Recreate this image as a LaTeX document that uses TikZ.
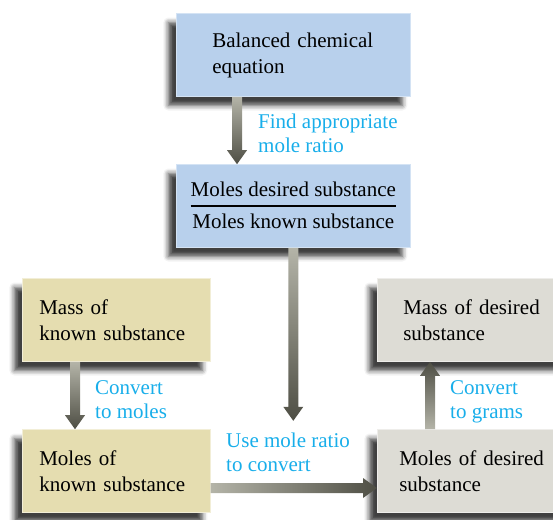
\documentclass[tikz,border=0pt]{standalone}
\usepackage{fontspec}
\setmainfont{Liberation Serif}
\usetikzlibrary{calc,shadows.blur}

\definecolor{boxblue}{RGB}{184,208,236}
\definecolor{boxtan}{RGB}{229,221,176}
\definecolor{boxgray}{RGB}{221,220,213}
\definecolor{notecyan}{RGB}{24,174,234}
\definecolor{arrowlight}{RGB}{180,180,168}
\definecolor{arrowdark}{RGB}{78,78,68}

% fat shaded arrow from #1 to #2
\newcommand{\fatarrow}[3]{%
  \coordinate (fah) at ($(#2)!14pt!(#1)$);
  \shade[#3] ($(#1)!5pt!90:(#2)$) -- ($(fah)!5pt!90:(#2)$) -- ($(fah)!10pt!90:(#2)$) -- (#2)
    -- ($(fah)!10pt!-90:(#2)$) -- ($(fah)!5pt!-90:(#2)$) -- ($(#1)!5pt!-90:(#2)$) -- cycle;}

\begin{document}
\begin{tikzpicture}[x=1pt, y=-1pt, font=\fontsize{21}{26}\selectfont,
  box/.style={anchor=west, minimum height=83pt, align=left, inner ysep=0pt, line width=0.6pt,
    blur shadow={shadow xshift=-8pt, shadow yshift=-9pt, shadow blur radius=5pt, shadow opacity=75}},
  note/.style={anchor=base west, align=left, text=notecyan, inner sep=0pt,
    font=\fontsize{21}{24}\selectfont},
  shadedown/.style={top color=arrowlight, bottom color=arrowdark},
  shadeup/.style={top color=arrowdark, bottom color=arrowlight},
  shaderight/.style={left color=arrowlight, right color=arrowdark}]
  \useasboundingbox (0,0) rectangle (553,519);

  \node[box, fill=boxblue, draw=boxblue!60!white, inner xsep=36pt, text width=162pt] (eq) at (176,55)
    {Balanced chemical\\equation};
  \node[box, fill=boxblue, draw=boxblue!60!white, minimum width=234pt] (ratio) at (176,206)
    {\renewcommand{\arraystretch}{1.2}\setlength{\arrayrulewidth}{1.2pt}%
     \begin{tabular}{@{}c@{}}Moles desired substance\\\hline Moles known substance\end{tabular}};
  \node[box, fill=boxtan, draw=boxtan!50!white, inner xsep=17pt, text width=154pt] (mknown) at (22,320)
    {Mass of\\known substance};
  \node[box, fill=boxtan, draw=boxtan!50!white, inner xsep=17pt, text width=154pt] (molknown) at (22,471)
    {Moles of\\known substance};
  \node[box, fill=boxgray, draw=boxgray!50!white, inner xsep=26pt, text width=140pt] (mdesired) at (377,320)
    {Mass of desired\\substance};
  \node[box, fill=boxgray, draw=boxgray!50!white, inner xsep=22pt, text width=146pt] (moldesired) at (377,471)
    {Moles of desired\\substance};

  \node[note] (findlbl) at (258,152) {Find appropriate\\mole ratio};
  \node[note] (tomollbl) at (95,418) {Convert\\to moles};
  \node[note] (uselbl) at (226,471) {Use mole ratio\\to convert};
  \node[note] (togramlbl) at (450,418) {Convert\\to grams};

  \coordinate (a1s) at ($(eq.south west)+(61,0)$);
  \coordinate (a1e) at (a1s |- ratio.north);
  \coordinate (ratiotip) at ($(ratio.south)+(0,173)$);
  \coordinate (a3s) at ($(mknown.south west)+(53,0)$);
  \coordinate (a3e) at (a3s |- molknown.north);
  \coordinate (a4s) at ($(molknown.east)+(0,17)$);
  \coordinate (a4e) at (a4s -| moldesired.west);
  \coordinate (a5s) at ($(moldesired.north west)+(53,0)$);
  \coordinate (a5e) at (a5s |- mdesired.south);

  \fatarrow{a1s}{a1e}{shadedown}
  \fatarrow{ratio.south}{ratiotip}{shadedown}
  \fatarrow{a3s}{a3e}{shadedown}
  \fatarrow{a4s}{a4e}{shaderight}
  \fatarrow{a5s}{a5e}{shadeup}
\end{tikzpicture}
\end{document}
